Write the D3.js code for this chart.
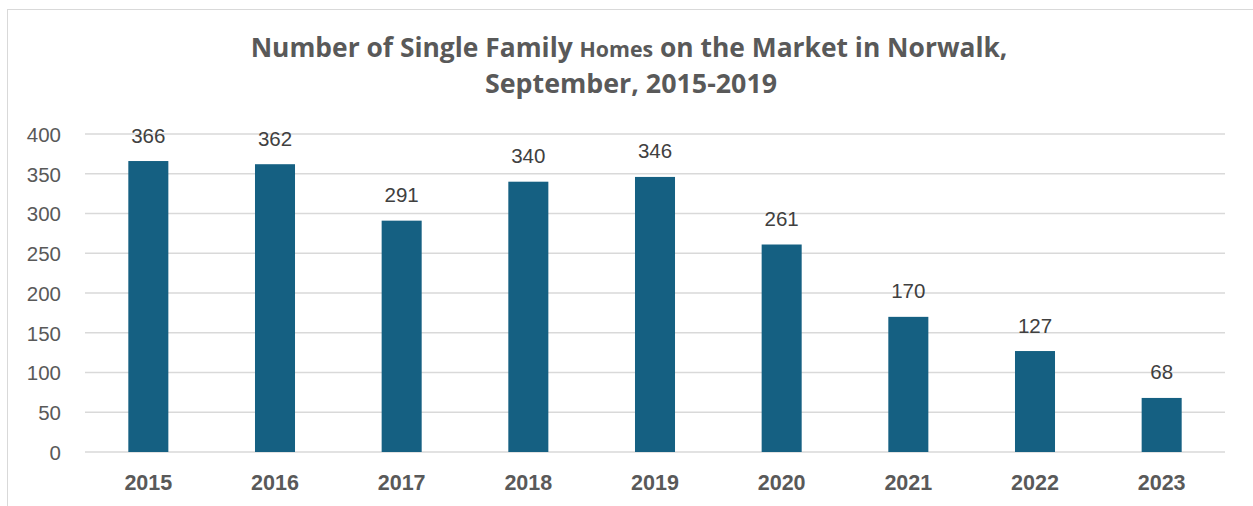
<!DOCTYPE html>
<html><head><meta charset="utf-8">
<script src="https://cdn.jsdelivr.net/npm/d3@7"></script>
<style>body{margin:0;background:#fff;}svg{display:block;}</style>
</head><body>
<script>
const categories = ["2015","2016","2017","2018","2019","2020","2021","2022","2023"];
const values = [366,362,291,340,346,261,170,127,68];
const yTicks = [0,50,100,150,200,250,300,350,400];

const W = 1253, H = 506;
const svg = d3.select("body").append("svg").attr("width", W).attr("height", H);
svg.append("rect").attr("x",7.5).attr("y",9.5).attr("width",1260).attr("height",520)
  .attr("fill","#fff").attr("stroke","#d9d9d9").attr("stroke-width",1);

const x = d3.scaleBand().domain(categories).range([85,1225]).paddingInner(0.684).paddingOuter(0.342);
const y = d3.scaleLinear().domain([0,400]).range([452,134]);
const font = "'Liberation Sans', Arial, sans-serif";

// gridlines
svg.append("g").selectAll("line").data(yTicks).join("line")
  .attr("x1",85).attr("x2",1225).attr("y1",d=>y(d)).attr("y2",d=>y(d))
  .attr("stroke","#d9d9d9").attr("stroke-width",1.5);

// y axis labels
const yAxis = d3.axisLeft(y).tickValues(yTicks).tickSize(0).tickPadding(0);
const gy = svg.append("g").attr("transform","translate(61,0)").call(yAxis);
gy.select(".domain").remove();
gy.selectAll("text").attr("font-family",font).attr("font-size",20.5).attr("fill","#595959").attr("dy","0.36em");

// bars
svg.append("g").selectAll("rect").data(values).join("rect")
  .attr("x",(d,i)=>x(categories[i])).attr("width",x.bandwidth())
  .attr("y",d=>y(d)).attr("height",d=>y(0)-y(d)).attr("fill","#156082");

// data labels
svg.append("g").selectAll("text").data(values).join("text")
  .attr("x",(d,i)=>x(categories[i])+x.bandwidth()/2).attr("y",d=>y(d)-18.5)
  .attr("text-anchor","middle").attr("font-family",font)
  .attr("font-size",20.5).attr("fill","#404040").text(d=>d);

// x axis labels
const xAxis = d3.axisBottom(x).tickSize(0).tickPadding(0);
const gx = svg.append("g").attr("transform","translate(0,490)").call(xAxis);
gx.select(".domain").remove();
gx.selectAll("text").attr("font-family",font).attr("font-size",21.5).attr("dy",0)
  .attr("font-weight","bold").attr("fill","#595959");

// title
const t = svg.append("text").attr("text-anchor","middle").attr("font-family","'Open Sans','Roboto',sans-serif")
  .attr("font-weight","bold").attr("fill","#595959");
const l1 = t.append("tspan").attr("x",629).attr("y",57).attr("font-size",26.4);
l1.append("tspan").text("Number of Single Family ");
l1.append("tspan").attr("font-size",21.3).text("Homes");
l1.append("tspan").text(" on the Market in Norwalk,");
t.append("tspan").attr("x",631).attr("y",93).attr("font-size",26.8).text("September, 2015-2019");
</script>
</body></html>
